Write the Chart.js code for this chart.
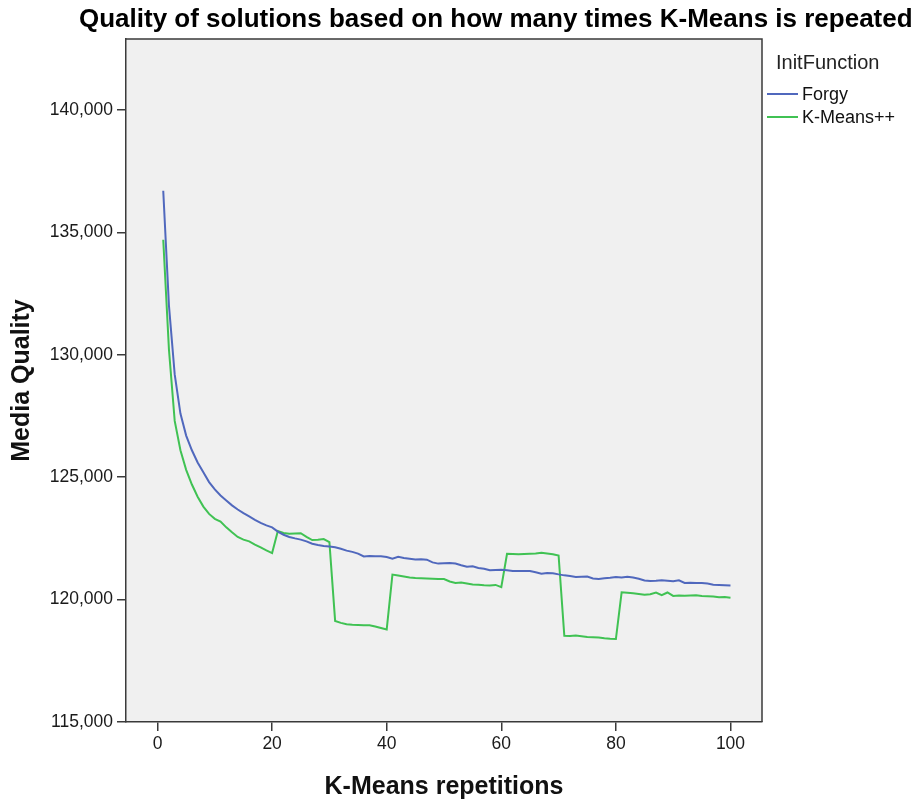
<!DOCTYPE html>
<html><head><meta charset="utf-8">
<script src="https://cdn.jsdelivr.net/npm/chart.js@4.4.1/dist/chart.umd.min.js"></script>
<style>html,body{margin:0;padding:0;background:#fff}canvas{display:block}</style>
</head><body>
<canvas id="c" width="924" height="802"></canvas>
<script>
const chartTitle = 'Quality of solutions based on how many times K-Means is repeated';
const legendTitle = 'InitFunction';
const seriesNames = ['Forgy', 'K-Means++'];
const repetitions = Array.from({length: 100}, (_, i) => i + 1);
const xTicks = [0, 20, 40, 60, 80, 100];
const yTicks = [115000, 120000, 125000, 130000, 135000, 140000];

const forgy = [
136700,132000,129200,127600,126700,126100,125600,125200,124800,124500,
124250,124050,123850,123680,123530,123400,123260,123130,123030,122950,
122780,122650,122560,122500,122450,122380,122280,122230,122190,122170,
122140,122080,122000,121950,121880,121760,121780,121770,121770,121740,
121670,121750,121700,121670,121640,121650,121630,121520,121470,121480,
121490,121470,121400,121340,121360,121290,121260,121200,121210,121220,
121200,121170,121170,121170,121170,121120,121060,121090,121080,121030,
120990,120960,120920,120930,120940,120860,120840,120870,120890,120920,
120900,120930,120900,120850,120780,120760,120770,120790,120770,120750,
120790,120680,120690,120680,120680,120660,120610,120600,120590,120580];

const kmeansPP = [
134700,130200,127300,126100,125300,124700,124200,123800,123500,123300,
123190,122950,122750,122560,122450,122380,122250,122130,122010,121900,
122800,122720,122690,122700,122710,122560,122430,122440,122470,122350,
119130,119050,118990,118970,118960,118950,118950,118900,118840,118780,
121020,120980,120940,120900,120880,120870,120860,120850,120840,120840,
120740,120680,120700,120660,120620,120610,120590,120580,120600,120510,
121870,121860,121850,121860,121870,121880,121910,121880,121850,121800,
118520,118510,118530,118500,118470,118460,118450,118420,118400,118390,
120300,120280,120260,120230,120200,120220,120290,120180,120290,120150,
120170,120160,120170,120180,120150,120140,120130,120100,120110,120080];

const colors = ['#5068bd', '#40c253'];
const axisColor = '#3a3a3a';
const fontFamily = '"Liberation Sans", Arial, sans-serif';

const decor = {
  id: 'decor',
  beforeDraw(chart) {
    const {ctx, chartArea: a} = chart;
    ctx.save();
    ctx.fillStyle = '#f0f0f0';
    ctx.fillRect(a.left, a.top, a.right - a.left, a.bottom - a.top);
    ctx.restore();
  },
  afterDraw(chart) {
    const {ctx, chartArea: a} = chart;
    ctx.save();
    ctx.strokeStyle = axisColor;
    ctx.lineWidth = 1.5;
    ctx.beginPath();
    ctx.moveTo(a.left, a.top); ctx.lineTo(a.right, a.top); ctx.lineTo(a.right, a.bottom);
    ctx.stroke();
    // title
    ctx.fillStyle = '#000';
    ctx.font = 'bold 26px ' + fontFamily;
    ctx.textAlign = 'left';
    ctx.textBaseline = 'alphabetic';
    ctx.fillText(chartTitle, 79, 27);
    // legend
    ctx.fillStyle = '#222';
    ctx.font = '20px ' + fontFamily;
    ctx.textBaseline = 'middle';
    ctx.fillText(legendTitle, 776, 63);
    ctx.font = '18px ' + fontFamily;
    chart.data.datasets.forEach((ds, i) => {
      const y = 94 + i * 23;
      ctx.strokeStyle = ds.borderColor;
      ctx.lineWidth = 2;
      ctx.beginPath(); ctx.moveTo(767, y); ctx.lineTo(798, y); ctx.stroke();
      ctx.fillStyle = '#111';
      ctx.fillText(ds.label, 802, y + 1);
    });
    ctx.restore();
  }
};

new Chart(document.getElementById('c'), {
  type: 'line',
  data: {
    datasets: [
      {label: seriesNames[0], data: repetitions.map((r, i) => ({x: r, y: forgy[i]})), borderColor: colors[0], borderWidth: 2, pointRadius: 0, tension: 0, fill: false},
      {label: seriesNames[1], data: repetitions.map((r, i) => ({x: r, y: kmeansPP[i]})), borderColor: colors[1], borderWidth: 2, pointRadius: 0, tension: 0, fill: false}
    ]
  },
  options: {
    responsive: false,
    animation: false,
    layout: {padding: {top: 39, right: 162, left: 0, bottom: 0}},
    plugins: {legend: {display: false}, title: {display: false}, tooltip: {enabled: false}},
    scales: {
      x: {
        type: 'linear', min: -5.5, max: 105.5,
        afterBuildTicks(s) { s.ticks = xTicks.map(v => ({value: v})); },
        afterFit(s) { s.height = 80; },
        grid: {display: true, drawOnChartArea: false, drawTicks: true, tickLength: 9, color: axisColor, lineWidth: 1.5},
        border: {display: true, color: axisColor, width: 1.5},
        ticks: {color: '#1a1a1a', font: {family: fontFamily, size: 17.5}, padding: 3, maxRotation: 0},
        title: {display: true, text: 'K-Means repetitions', color: '#111', font: {family: fontFamily, size: 25, weight: 'bold'}, padding: {top: 7, bottom: 0}}
      },
      y: {
        type: 'linear', min: 115000, max: 142900,
        afterBuildTicks(s) { s.ticks = yTicks.map(v => ({value: v})); },
        afterFit(s) { s.width = 126; },
        grid: {display: true, drawOnChartArea: false, drawTicks: true, tickLength: 9, color: axisColor, lineWidth: 1.5},
        border: {display: true, color: axisColor, width: 1.5},
        ticks: {color: '#1a1a1a', font: {family: fontFamily, size: 17.5}, padding: 4,
          callback: v => v.toLocaleString('en-US')},
        title: {display: true, text: 'Media Quality', color: '#111', font: {family: fontFamily, size: 25, weight: 'bold'}, padding: {top: 7, bottom: 0}}
      }
    }
  },
  plugins: [decor]
});
</script>
</body></html>
